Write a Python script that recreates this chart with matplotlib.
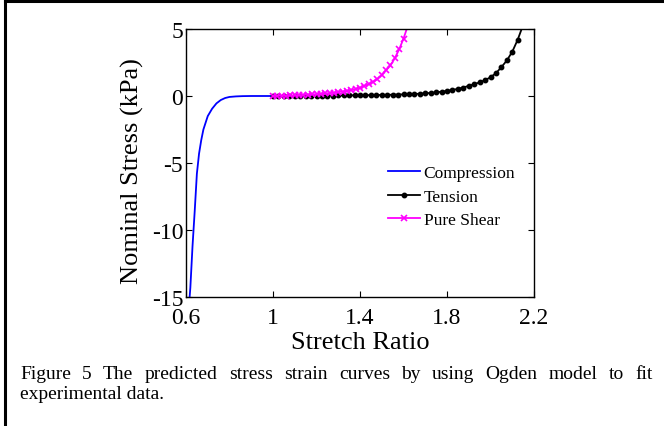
import matplotlib
matplotlib.use("Agg")
import matplotlib.pyplot as plt
from matplotlib.lines import Line2D

plt.rcParams['font.family'] = ['Liberation Serif', 'DejaVu Serif']
plt.rcParams['mathtext.fontset'] = 'stix'

# ---- data ----
comp_x = [0.612, 0.62, 0.63, 0.64, 0.65, 0.66, 0.67, 0.68, 0.69, 0.70, 0.72, 0.74,
          0.76, 0.78, 0.80, 0.83, 0.86, 0.90, 0.95, 1.00]
comp_y = [-16.0, -14.3, -11.2, -8.6, -5.8, -4.3, -3.3, -2.5, -2.0, -1.5, -0.95, -0.55,
          -0.30, -0.15, -0.07, -0.03, -0.01, 0.0, 0.0, 0.0]

ten_x = [1.000, 1.025, 1.050, 1.075, 1.100, 1.125, 1.150, 1.175, 1.200, 1.225, 1.250,
         1.275, 1.300, 1.325, 1.350, 1.375, 1.400, 1.425, 1.450, 1.475, 1.500, 1.525,
         1.550, 1.575, 1.600, 1.625, 1.650, 1.675, 1.700, 1.725, 1.750, 1.775, 1.800,
         1.825, 1.850, 1.875, 1.900, 1.925, 1.950, 1.975, 2.000, 2.025, 2.050, 2.075,
         2.100, 2.125, 2.150]
ten_y = [0.000, 0.003, 0.006, 0.009, 0.012, 0.015, 0.018, 0.021, 0.024, 0.027, 0.030,
         0.034, 0.038, 0.042, 0.046, 0.050, 0.055, 0.060, 0.066, 0.072, 0.079, 0.087,
         0.096, 0.106, 0.118, 0.13, 0.15, 0.17, 0.20, 0.23, 0.27, 0.32, 0.38,
         0.45, 0.53, 0.63, 0.76, 0.88, 1.02, 1.18, 1.40, 1.70, 2.15, 2.65,
         3.30, 4.20, 5.30]

shear_x = [1.00, 1.02, 1.04, 1.06, 1.08, 1.10, 1.12, 1.14, 1.16, 1.18, 1.20, 1.22,
           1.24, 1.26, 1.28, 1.30, 1.32, 1.34, 1.36, 1.38, 1.40, 1.42, 1.44, 1.46,
           1.48, 1.50, 1.52, 1.54, 1.56, 1.58, 1.60, 1.62]
shear_y = [0.00, 0.01, 0.02, 0.03, 0.04, 0.05, 0.06, 0.08, 0.10, 0.12, 0.14, 0.16,
           0.19, 0.22, 0.25, 0.29, 0.33, 0.38, 0.44, 0.52, 0.62, 0.74, 0.89, 1.06,
           1.26, 1.58, 1.93, 2.28, 2.82, 3.48, 4.28, 5.25]

labels = ['Compression', 'Tension', 'Pure Shear']
xticks = [0.6, 1, 1.4, 1.8, 2.2]
xticklabels = ['0.6', '1', '1.4', '1.8', '2.2']
yticks = [-15, -10, -5, 0, 5]
yticklabels = ['-15', '-10', '-5', '0', '5']
caption_lines = ["Figure 5 The predicted stress strain curves by using Ogden model to fit",
                 "experimental data."]

W, H = 664, 427
fig = plt.figure(figsize=(W / 100, H / 100), dpi=100)

ax = fig.add_axes([186 / W, 1 - 298 / H, 348 / W, 268 / H])
ax.plot(comp_x, comp_y, color='#0000FF', lw=1.3, label=labels[0])
ax.plot(ten_x, ten_y, color='black', lw=1.3, marker='o', ms=3.2, label=labels[1])
ax.plot(shear_x, shear_y, color='#FF00FF', lw=1.3, marker='x', ms=5, mew=1.2, label=labels[2])

ax.set_xlim(0.6, 2.2)
ax.set_ylim(-15, 5)
ax.set_xticks(xticks)
ax.set_xticklabels(xticklabels)
ax.set_yticks(yticks)
ax.set_yticklabels(yticklabels)
ax.tick_params(direction='in', top=True, right=True, length=4, width=0.8, labelsize=17)
ax.tick_params(axis='x', pad=7)
ax.tick_params(axis='y', pad=2)
for s in ax.spines.values():
    s.set_linewidth(1.0)
ax.set_xlabel('Stretch Ratio', fontsize=19)
ax.set_ylabel('Nominal Stress (kPa)', fontsize=19)
ax.xaxis.set_label_coords(0.5, -0.128)
ax.yaxis.set_label_coords(-0.121, 0.474)

ax.legend(loc='upper left', bbox_to_anchor=(388 / W, 1 - 166 / H),
          bbox_transform=fig.transFigure, frameon=False, fontsize=12.5,
          handlelength=1.85, handletextpad=0.2, labelspacing=0.42,
          borderpad=0, borderaxespad=0, markerscale=1.0)

# figure border (top and left)
fig.add_artist(Line2D([4.5 / W, 1], [1 - 2 / H, 1 - 2 / H], transform=fig.transFigure,
                      color='black', lw=2.2))
fig.add_artist(Line2D([4.5 / W, 4.5 / W], [0, 1 - 1 / H], transform=fig.transFigure,
                      color='black', lw=2.2))

# caption: first line justified
fig.canvas.draw()
renderer = fig.canvas.get_renderer()
words = caption_lines[0].split(' ')
fs = 14
left_px, right_px = 20, 653
y1 = 1 - 375 / H
y2 = 1 - 395 / H
tmp = [fig.text(0, 0, w, fontsize=fs) for w in words]
widths = [t.get_window_extent(renderer).width for t in tmp]
for t in tmp:
    t.remove()
gap = (right_px - left_px - sum(widths)) / (len(words) - 1)
xpos = left_px
for w, wd in zip(words, widths):
    fig.text(xpos / W, y1, w, fontsize=fs, va='center', ha='left')
    xpos += wd + gap
fig.text(left_px / W, y2, caption_lines[1], fontsize=fs, va='center', ha='left')

fig.savefig('out.png', dpi=100)
